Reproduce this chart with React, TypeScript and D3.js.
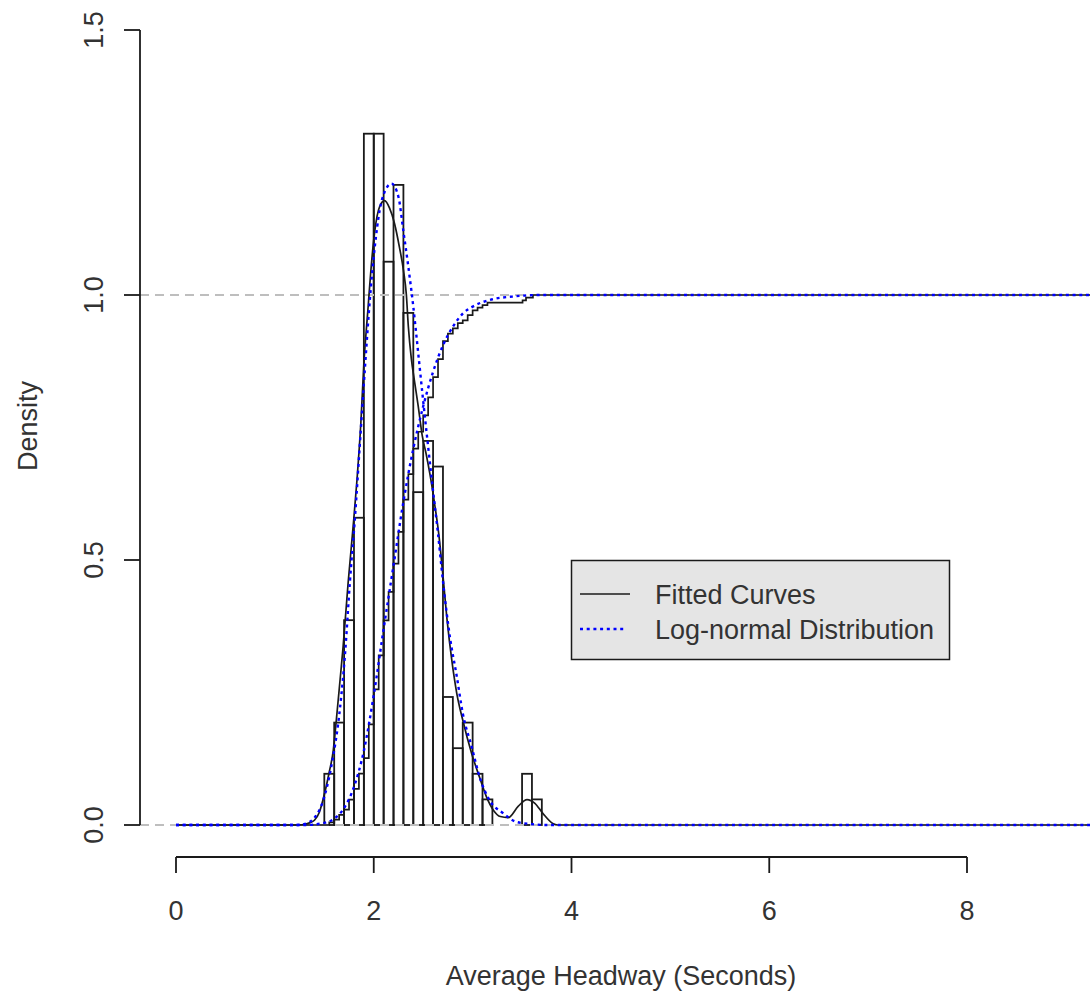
import React from "react";
import * as d3 from "d3";

// ---------- data ----------
const binStart = 1.5;
const binWidth = 0.1;
// counts per 0.1-wide bin from 1.5 to 3.7
const binCounts = [2, 4, 8, 12, 27, 27, 22, 25, 20, 13, 15, 14, 5, 3, 4, 2, 1, 0, 0, 0, 2, 1];
const totalN = 207;

// black fitted density (kernel) curve: [x, density]
const kdeX = [0, 1.2, 1.29, 1.35, 1.4, 1.45, 1.49, 1.55, 1.59, 1.62, 1.66, 1.69, 1.74, 1.79, 1.83, 1.87, 1.9, 1.94, 1.98, 2.01, 2.06, 2.11, 2.16, 2.21, 2.26, 2.3, 2.33, 2.35, 2.38, 2.41, 2.45, 2.49, 2.53, 2.57, 2.62, 2.66, 2.7, 2.74, 2.79, 2.84, 2.9, 2.99, 3.07, 3.14, 3.21, 3.28, 3.36, 3.46, 3.55, 3.63, 3.71, 3.81, 3.86, 9.4];
const kdeY = [0, 0, 0.001, 0.004, 0.009, 0.024, 0.05, 0.1, 0.14, 0.195, 0.275, 0.336, 0.455, 0.56, 0.65, 0.76, 0.87, 0.97, 1.066, 1.12, 1.167, 1.178, 1.164, 1.135, 1.09, 1.047, 1.0, 0.94, 0.88, 0.84, 0.79, 0.735, 0.7, 0.66, 0.6, 0.545, 0.47, 0.39, 0.31, 0.248, 0.198, 0.135, 0.09, 0.053, 0.028, 0.016, 0.014, 0.035, 0.048, 0.041, 0.022, 0.003, 0, 0];

// blue log-normal density
const lnDensX = [0, 1.2, 1.3, 1.41, 1.49, 1.57, 1.66, 1.71, 1.76, 1.81, 1.86, 1.91, 1.96, 2.01, 2.06, 2.1, 2.18, 2.25, 2.3, 2.35, 2.4, 2.45, 2.5, 2.55, 2.6, 2.65, 2.7, 2.77, 2.84, 2.9, 2.99, 3.07, 3.17, 3.31, 3.44, 3.58, 3.75, 9.4];
const lnDensY = [0, 0, 0.002, 0.016, 0.047, 0.11, 0.223, 0.324, 0.462, 0.58, 0.72, 0.86, 0.99, 1.09, 1.16, 1.19, 1.21, 1.185, 1.12, 1.053, 0.978, 0.89, 0.8, 0.714, 0.63, 0.55, 0.46, 0.355, 0.28, 0.211, 0.148, 0.091, 0.047, 0.022, 0.006, 0.002, 0, 0];

// black empirical cumulative curve (step)
const ecdfX = [0, 1.5, 1.55, 1.6, 1.65, 1.7, 1.75, 1.8, 1.85, 1.9, 1.95, 2.0, 2.05, 2.1, 2.15, 2.2, 2.25, 2.3, 2.35, 2.4, 2.45, 2.5, 2.55, 2.6, 2.65, 2.7, 2.75, 2.8, 2.85, 2.9, 2.95, 3.0, 3.05, 3.1, 3.15, 3.505, 3.54, 3.61, 9.4];
const ecdfY = [0, 0, 0.005, 0.01, 0.019, 0.029, 0.048, 0.068, 0.097, 0.126, 0.19, 0.256, 0.32, 0.386, 0.44, 0.493, 0.553, 0.614, 0.662, 0.71, 0.742, 0.773, 0.807, 0.845, 0.879, 0.913, 0.927, 0.937, 0.947, 0.952, 0.962, 0.971, 0.976, 0.981, 0.9855, 0.99, 0.995, 1.0, 1.0];

// blue log-normal cumulative curve
const lnCdfX = [0, 1.3, 1.5, 1.6, 1.7, 1.8, 1.9, 2.0, 2.1, 2.2, 2.3, 2.4, 2.5, 2.6, 2.7, 2.8, 2.9, 3.0, 3.2, 3.4, 3.7, 9.4];
const lnCdfY = [0, 0, 0.004, 0.012, 0.032, 0.072, 0.14, 0.245, 0.37, 0.49, 0.61, 0.71, 0.79, 0.855, 0.905, 0.94, 0.965, 0.978, 0.992, 0.997, 1.0, 1.0];

const xTicks = [0, 2, 4, 6, 8];
const yTicks = [0, 0.5, 1.0, 1.5];
const yTickLabels = ["0.0", "0.5", "1.0", "1.5"];
const refLines = [0, 1];
const legendLabels = ["Fitted Curves", "Log-normal Distribution"];
const xTitle = "Average Headway (Seconds)";
const yTitle = "Density";

// ---------- layout ----------
const W = 1090;
const H = 994;
const FONT = "'Liberation Sans', Arial, sans-serif";
const FS = 27;
const TXT = "#333";
const INK = "#1a1a1a";

export default function App() {
  const x = d3.scaleLinear().domain([0, 8]).range([176, 967]);
  const y = d3.scaleLinear().domain([0, 1.5]).range([825, 30]);
  const plotLeft = 140;

  const pts = (xs: number[], ys: number[]) => xs.map((v, i) => [v, ys[i]] as [number, number]);
  const smooth = d3.line<[number, number]>().x((d) => x(d[0])).y((d) => y(d[1])).curve(d3.curveMonotoneX);
  const step = d3.line<[number, number]>().x((d) => x(d[0])).y((d) => y(d[1])).curve(d3.curveStepAfter);

  const bars = binCounts.map((c, i) => {
    const x0 = binStart + i * binWidth;
    const dens = c / (totalN * binWidth);
    return { x0, x1: x0 + binWidth, dens };
  });

  const blueDot = { stroke: "#0000ff", strokeWidth: 2.4, strokeDasharray: "3,3.7", fill: "none" };
  const blackLine = { stroke: INK, strokeWidth: 1.7, fill: "none" };

  return (
    <svg width={W} height={H} style={{ position: "absolute", left: 0, top: 0, background: "#fff" }} fontFamily={FONT}>
      {/* histogram */}
      {bars.map((b, i) => (
        <rect
          key={i}
          x={x(b.x0)}
          y={y(b.dens)}
          width={x(b.x1) - x(b.x0)}
          height={y(0) - y(b.dens)}
          fill="none"
          stroke={INK}
          strokeWidth={1.8}
        />
      ))}
      {/* reference lines */}
      {refLines.map((v) => (
        <line key={v} x1={plotLeft} x2={W} y1={y(v)} y2={y(v)} stroke="#bebebe" strokeWidth={2} strokeDasharray="9,6" />
      ))}
      {/* curves */}
      <path d={smooth(pts(kdeX, kdeY)) || ""} {...blackLine} />
      <path d={step(pts(ecdfX, ecdfY)) || ""} {...blackLine} />
      <path d={smooth(pts(lnDensX, lnDensY)) || ""} {...blueDot} />
      <path d={smooth(pts(lnCdfX, lnCdfY)) || ""} {...blueDot} />

      {/* y axis */}
      <line x1={plotLeft} x2={plotLeft} y1={y(1.5)} y2={y(0)} stroke={INK} strokeWidth={1.8} />
      {yTicks.map((t, i) => (
        <g key={t}>
          <line x1={plotLeft - 16} x2={plotLeft} y1={y(t)} y2={y(t)} stroke={INK} strokeWidth={1.8} />
          <text
            transform={`translate(${103},${y(t)}) rotate(-90)`}
            textAnchor="middle"
            fontSize={FS}
            fill={TXT}
          >
            {yTickLabels[i]}
          </text>
        </g>
      ))}
      <text transform={`translate(37,${426}) rotate(-90)`} textAnchor="middle" fontSize={FS} fill={TXT}>
        {yTitle}
      </text>

      {/* x axis */}
      <line x1={x(0)} x2={x(8)} y1={857} y2={857} stroke={INK} strokeWidth={1.8} />
      {xTicks.map((t) => (
        <g key={t}>
          <line x1={x(t)} x2={x(t)} y1={857} y2={873} stroke={INK} strokeWidth={1.8} />
          <text x={x(t)} y={920} textAnchor="middle" fontSize={FS} fill={TXT}>
            {t}
          </text>
        </g>
      ))}
      <text x={621} y={985} textAnchor="middle" fontSize={FS} fill={TXT}>
        {xTitle}
      </text>

      {/* legend */}
      <rect x={571.5} y={560.5} width={378} height={99} fill="#e5e5e5" stroke={INK} strokeWidth={1.5} />
      <line x1={580} x2={630} y1={594} y2={594} stroke={INK} strokeWidth={1.7} />
      <line x1={580} x2={626} y1={629} y2={629} stroke="#0000ff" strokeWidth={2.4} strokeDasharray="3,3.7" />
      <text x={655} y={604} fontSize={FS} fill={TXT}>
        {legendLabels[0]}
      </text>
      <text x={655} y={639} fontSize={FS} fill={TXT}>
        {legendLabels[1]}
      </text>
    </svg>
  );
}
